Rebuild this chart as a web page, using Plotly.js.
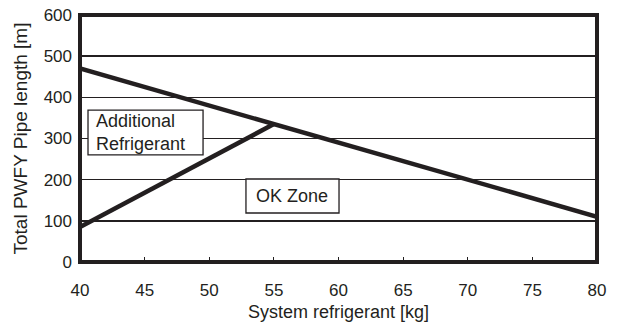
<!DOCTYPE html>
<html><head><meta charset="utf-8">
<script src="https://cdn.plot.ly/plotly-3.0.1.min.js"></script>
<style>html,body{margin:0;padding:0;background:#fff}#c{width:626px;height:329px}</style>
</head><body><div id="c"></div>
<script>
const limitX = [40, 80];
const limitY = [470, 110];
const addX = [40, 55];
const addY = [85, 335];
const xTicks = [40, 45, 50, 55, 60, 65, 70, 75, 80];
const yTicks = [0, 100, 200, 300, 400, 500, 600];

const ink = '#231f20';
const lineStyle = {color: ink, width: 4.5};
const traces = [
  {x: limitX, y: limitY, mode: 'lines', line: lineStyle, hoverinfo: 'skip', cliponaxis: false},
  {x: addX, y: addY, mode: 'lines', line: lineStyle, hoverinfo: 'skip', cliponaxis: false}
];
const fam = 'Liberation Sans, Arial, sans-serif';
const tickFont = {family: fam, size: 17, color: ink};
const titleFont = {family: fam, size: 18, color: ink};
const annFont = {family: fam, size: 18, color: ink};
const layout = {
  width: 626, height: 329,
  margin: {l: 80, r: 29, t: 15, b: 67},
  showlegend: false,
  paper_bgcolor: '#fff', plot_bgcolor: '#fff',
  font: tickFont,
  xaxis: {
    range: [40, 80], tickvals: xTicks, ticks: 'inside', ticklen: 5, tickcolor: ink, tickwidth: 1,
    showgrid: false, zeroline: false, showline: false,
    tickfont: tickFont, ticklabelstandoff: 16,
    title: {text: 'System refrigerant [kg]', font: titleFont, standoff: 6}
  },
  yaxis: {
    range: [0, 600], tickvals: yTicks, ticks: '',
    showgrid: true, gridcolor: ink, gridwidth: 1.6, zeroline: false, showline: false,
    tickfont: tickFont, ticklabelstandoff: 7,
    title: {text: 'Total PWFY Pipe length [m]', font: {family: fam, size: 19, color: ink}, standoff: 10}
  },
  shapes: [
    {type: 'rect', xref: 'x', yref: 'y', x0: 40.62, x1: 49.52, y0: 260, y1: 369,
     fillcolor: '#fff', line: {color: ink, width: 1.3}, layer: 'above'},
    {type: 'rect', xref: 'x', yref: 'y', x0: 52.84, x1: 60.04, y0: 119, y1: 201.6,
     fillcolor: '#fff', line: {color: ink, width: 1.3}, layer: 'above'},
    {type: 'rect', xref: 'paper', yref: 'paper', x0: 0, x1: 1, y0: 0, y1: 1,
     line: {color: ink, width: 4}}
  ],
  annotations: [
    {x: 41.1, y: 314, xref: 'x', yref: 'y', xanchor: 'left', yanchor: 'middle',
     text: 'Additional<br>Refrigerant', align: 'left', showarrow: false, font: annFont},
    {x: 56.44, y: 160, xref: 'x', yref: 'y', xanchor: 'center', yanchor: 'middle',
     text: 'OK Zone', showarrow: false, font: annFont}
  ]
};
Plotly.newPlot('c', traces, layout, {displayModeBar: false, staticPlot: true});
</script></body></html>
